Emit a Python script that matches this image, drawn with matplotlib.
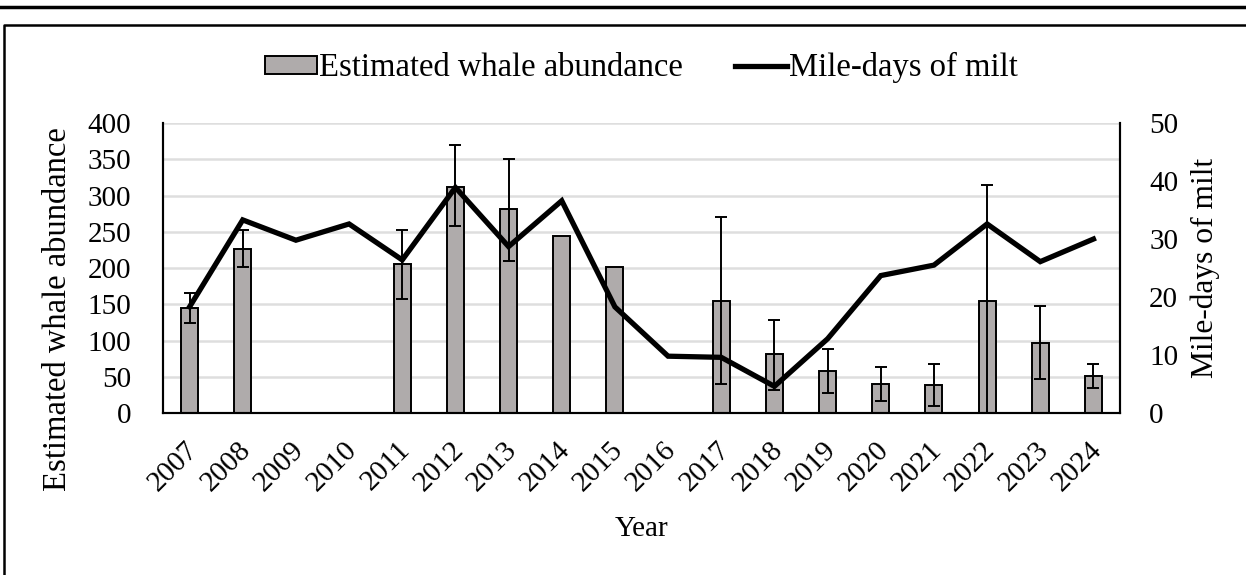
import numpy as np
import matplotlib
matplotlib.use("Agg")
import matplotlib.pyplot as plt
import matplotlib.transforms as mtransforms
from matplotlib.lines import Line2D

plt.rcParams['font.family'] = ['Liberation Serif', 'DejaVu Serif']

years = ['2007', '2008', '2009', '2010', '2011', '2012', '2013', '2014', '2015',
         '2016', '2017', '2018', '2019', '2020', '2021', '2022', '2023', '2024']
abundance = [145, 226, np.nan, np.nan, 205, 312, 281, 244, 202,
             np.nan, 155, 81, 58, 40, 38, 155, 97, 51]
err_low = [124, 202, np.nan, np.nan, 157, 258, 210, np.nan, np.nan,
           np.nan, 40, 32, 28, 17, 10, -5, 47, 35]
err_high = [166, 253, np.nan, np.nan, 253, 370, 350, np.nan, np.nan,
            np.nan, 270, 129, 88, 64, 67, 314, 148, 67]
milt = [18.3, 33.3, 29.8, 32.6, 26.4, 38.9, 28.7, 36.6, 18.3,
        9.8, 9.6, 4.6, 12.8, 23.7, 25.5, 32.6, 26.1, 30.0]

x = np.arange(len(years))
ab = np.array(abundance)
lo = ab - np.array(err_low)
hi = np.array(err_high) - ab

fig = plt.figure(figsize=(12.46, 5.75), dpi=100)
ax = fig.add_axes([0.1308, 0.2817, 0.7681, 0.5043])
ax2 = ax.twinx()

ax.set_axisbelow(True)
ax.yaxis.grid(True, color='#dedede', linewidth=1.8)
bars = ax.bar(x, ab, width=0.32, color='#afabab', edgecolor='black', linewidth=1.4,
              label='Estimated whale abundance', zorder=2)
ax.errorbar(x, ab, yerr=[lo, hi], fmt='none', ecolor='black', elinewidth=1.4,
            capsize=4, capthick=1.4, zorder=3)
line, = ax2.plot(x, milt, color='black', linewidth=3.8, label='Mile-days of milt',
                 solid_joinstyle='miter')

ax.set_xlim(-0.5, len(years) - 0.5)
ax.set_ylim(0, 400)
ax.set_yticks(np.arange(0, 401, 50))
ax2.set_ylim(0, 50)
ax2.set_yticks(np.arange(0, 51, 10))
ax.set_xticks(x)
ax.set_xticklabels(years, rotation=45, ha='right', rotation_mode='anchor', fontsize=22)

for a in (ax, ax2):
    a.tick_params(length=0, labelsize=21)
    for s in a.spines.values():
        s.set_linewidth(1.5)
    a.spines['top'].set_visible(False)
ax.tick_params(axis='y', pad=23)
ax2.tick_params(axis='y', pad=21)
ax.tick_params(axis='x', pad=17)

# nudge the rotated year labels a little to the left
shift = mtransforms.ScaledTranslation(-5 / 100, 0, fig.dpi_scale_trans)
for lab in ax.get_xticklabels():
    lab.set_transform(lab.get_transform() + shift)

ax.set_xlabel('Year', fontsize=21, labelpad=14)
ax.set_ylabel('Estimated whale abundance', fontsize=23.5)
ax.yaxis.set_label_coords(-0.094, 0.36)
ax2.set_ylabel('Mile-days of milt', fontsize=22.7, labelpad=9)

ax.legend(handles=[bars, line], loc='center', bbox_to_anchor=(0.5, 1.19), ncol=2,
          frameon=False, fontsize=23.5, handlelength=1.6, handleheight=0.5,
          handletextpad=0.05, columnspacing=1.6)

# page frame lines
fig.add_artist(Line2D([0, 1], [1 - 7 / 575, 1 - 7 / 575], color='black', linewidth=2.5,
                      transform=fig.transFigure))
fig.add_artist(Line2D([4 / 1246, 4 / 1246, 1], [0, 1 - 25 / 575, 1 - 25 / 575],
                      color='black', linewidth=1.8, transform=fig.transFigure))

fig.savefig('out.png', dpi=100)
